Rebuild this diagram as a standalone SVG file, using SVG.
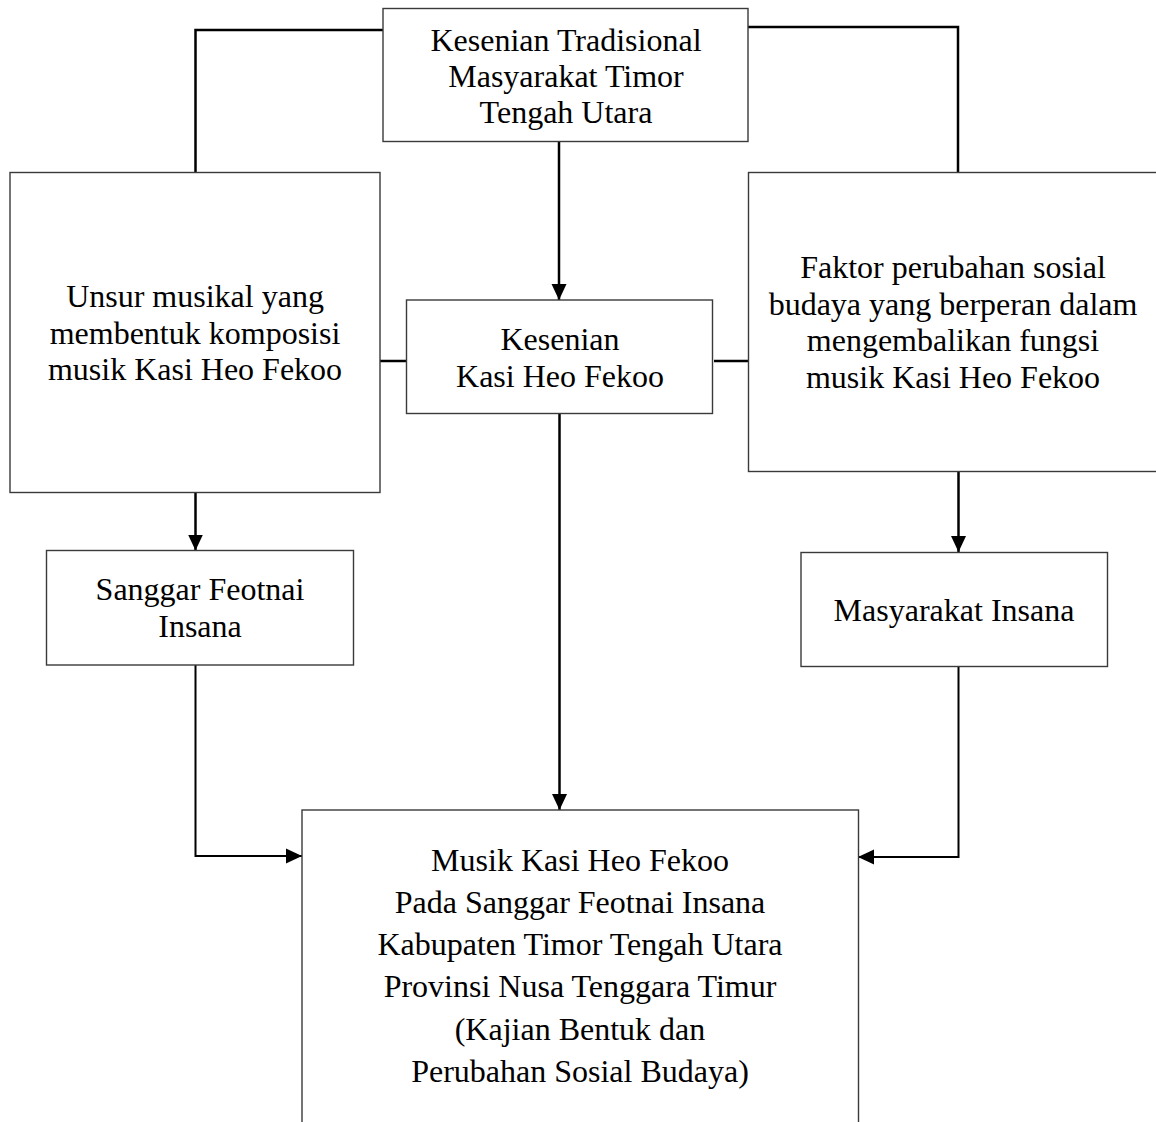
<svg xmlns="http://www.w3.org/2000/svg" width="1156" height="1122" viewBox="0 0 1156 1122">
<style>
.box{fill:#fff;stroke:#3a3a3a;stroke-width:1.4}
.t{font-family:"Liberation Serif","Times New Roman",serif;font-size:32px;fill:#000;text-anchor:middle}
.c{fill:none;stroke:#000;stroke-width:2.5}
.c2{fill:none;stroke:#000;stroke-width:2}
</style>
<defs>
<marker id="ah" markerUnits="userSpaceOnUse" markerWidth="16" markerHeight="16" viewBox="0 0 16 16" refX="16" refY="8" orient="auto">
<path d="M0,0.5 L16,8 L0,15.5 z" fill="#000"/>
</marker>
</defs>
<rect width="1156" height="1122" fill="#fff"/>
<g id="connectors">
<polyline class="c" points="383,30 195.5,30 195.5,172.5"/>
<polyline class="c" points="748,27 958,27 958,172.5"/>
<line class="c" x1="559" y1="141.5" x2="559" y2="300" marker-end="url(#ah)"/>
<line class="c" x1="380" y1="361" x2="407" y2="361"/>
<line class="c" x1="714" y1="361" x2="748" y2="361"/>
<line class="c" x1="195.5" y1="492.5" x2="195.5" y2="550.5" marker-end="url(#ah)"/>
<line class="c" x1="958.5" y1="471.5" x2="958.5" y2="552" marker-end="url(#ah)"/>
<line class="c" x1="559.5" y1="413.5" x2="559.5" y2="810" marker-end="url(#ah)"/>
<polyline class="c2" points="195.5,665 195.5,856 302,856" marker-end="url(#ah)"/>
<polyline class="c2" points="958.5,667 958.5,857 858,857" marker-end="url(#ah)"/>
</g>
<g id="n-top">
<rect class="box" x="383" y="8.5" width="365" height="133"/>
<text class="t" x="566" y="51">Kesenian Tradisional</text>
<text class="t" x="566" y="87">Masyarakat Timor</text>
<text class="t" x="566" y="123">Tengah Utara</text>
</g>
<g id="n-unsur">
<rect class="box" x="10" y="172.5" width="370" height="320"/>
<text class="t" x="195" y="307">Unsur musikal yang</text>
<text class="t" x="195" y="343.5">membentuk komposisi</text>
<text class="t" x="195" y="380">musik Kasi Heo Fekoo</text>
</g>
<g id="n-kesenian">
<rect class="box" x="406.5" y="300" width="306" height="113.5"/>
<text class="t" x="560" y="350">Kesenian</text>
<text class="t" x="560" y="386.5">Kasi Heo Fekoo</text>
</g>
<g id="n-faktor">
<rect class="box" x="748.5" y="172.5" width="412" height="299"/>
<text class="t" x="953" y="278">Faktor perubahan sosial</text>
<text class="t" x="953" y="314.5">budaya yang berperan dalam</text>
<text class="t" x="953" y="351">mengembalikan fungsi</text>
<text class="t" x="953" y="387.5">musik Kasi Heo Fekoo</text>
</g>
<g id="n-sanggar">
<rect class="box" x="46.5" y="550.5" width="307" height="114.5"/>
<text class="t" x="200" y="600">Sanggar Feotnai</text>
<text class="t" x="200" y="636.5">Insana</text>
</g>
<g id="n-masyarakat">
<rect class="box" x="801" y="552.5" width="306.5" height="114"/>
<text class="t" x="954" y="621">Masyarakat Insana</text>
</g>
<g id="n-bottom">
<rect class="box" x="302" y="810" width="556.5" height="330"/>
<text class="t" x="580" y="870.5">Musik Kasi Heo Fekoo</text>
<text class="t" x="580" y="912.7">Pada Sanggar Feotnai Insana</text>
<text class="t" x="580" y="955">Kabupaten Timor Tengah Utara</text>
<text class="t" x="580" y="997.3">Provinsi Nusa Tenggara Timur</text>
<text class="t" x="580" y="1039.5">(Kajian Bentuk dan</text>
<text class="t" x="580" y="1081.7">Perubahan Sosial Budaya)</text>
</g>
</svg>
